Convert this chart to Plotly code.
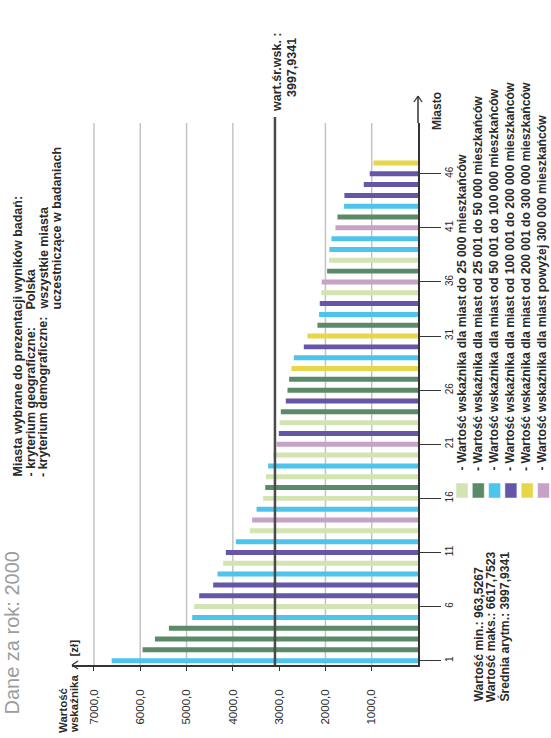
import plotly.graph_objects as go

# ---------------- data ----------------
city_index = list(range(1, 48))
values = [6617.75, 5950, 5683, 5381, 4878, 4835, 4727, 4425, 4330, 4209,
          4151, 3935, 3633, 3583, 3488, 3346, 3300, 3285, 3237, 3130,
          3057, 3007, 2990, 2963, 2856, 2819, 2784, 2733, 2683, 2467,
          2388, 2172, 2137, 2122, 2086, 2080, 1964, 1921, 1915, 1870,
          1783, 1740, 1597, 1590, 1172, 1043, 963.53]
# group index of each city (size class)
groups = [2, 1, 1, 1, 2, 0, 3, 3, 2, 0,
          3, 2, 0, 5, 2, 0, 1, 0, 2, 0,
          5, 3, 0, 1, 3, 1, 1, 4, 2, 3,
          4, 1, 2, 3, 0, 5, 1, 0, 2, 2,
          5, 1, 2, 3, 3, 3, 4]
group_labels = [
    "- Wartość wskaźnika dla miast do 25 000 mieszkańców",
    "- Wartość wskaźnika dla miast od 25 001 do 50 000 mieszkańców",
    "- Wartość wskaźnika dla miast od 50 001 do 100 000 mieszkańców",
    "- Wartość wskaźnika dla miast od 100 001 do 200 000 mieszkańców",
    "- Wartość wskaźnika dla miast od 200 001 do 300 000 mieszkańców",
    "- Wartość wskaźnika dla miast powyżej 300 000 mieszkańców",
]
group_colors = ["#d2e4b2", "#5a8a67", "#4cc4ec", "#6656a8", "#e8d64a", "#c6a2c6"]
value_ticks = [1000, 2000, 3000, 4000, 5000, 6000, 7000]
value_tick_text = ["1000,0", "2000,0", "3000,0", "4000,0", "5000,0", "6000,0", "7000,0"]
grid_values = [1000, 2000, 4000, 5000, 6000, 7000]
city_ticks = [1, 6, 11, 16, 21, 26, 31, 36, 41, 46]
mean_line_value = 3090
stat_lines = ["Wartość min.: 963,5267", "Wartość maks.: 6617,7523", "Średnia arytm.: 3997,9341"]
mean_label = ["wart.śr.wsk. :", "3997,9341"]
title_text = "Dane za rok: 2000"
info_lines = ["Miasta wybrane do prezentacji wyników badań:",
              "- kryterium geograficzne:", "Polska",
              "- kryterium demograficzne:", "wszystkie miasta",
              "uczestniczące w badaniach"]
axis_titles = ["Wartość", "wskaźnika", "[zł]", "Miasto"]

# ---------------- layout helpers (pixel -> paper) ----------------
W, H = 551, 738
PL, PR, PT, PB = 72, 418, 123, 665


def px(x):
    return (x - PL) / (PR - PL)


def py(y):
    return (PB - y) / (PB - PT)


FONT = "Liberation Sans, Arial, sans-serif"
TXT = "#2a2a2a"
AX = "#333333"

fig = go.Figure()
fig.add_trace(go.Bar(
    x=values, y=city_index, orientation="h",
    marker=dict(color=[group_colors[g] for g in groups], line=dict(width=0)),
    width=0.46, hoverinfo="x+y", showlegend=False,
))

shapes = []
for gv in grid_values:
    shapes.append(dict(type="line", xref="x", yref="paper", x0=gv, x1=gv, y0=0, y1=1,
                       line=dict(color="#c4c4c4", width=1.5), layer="below"))
# mean line
shapes.append(dict(type="line", xref="x", yref="paper", x0=mean_line_value, x1=mean_line_value,
                   y0=0, y1=py(117), line=dict(color="#4a4a4a", width=2.5), layer="above"))
# category axis extension
shapes.append(dict(type="line", xref="paper", yref="paper", x0=px(PR), x1=px(PR), y0=1, y1=py(96),
                   line=dict(color=AX, width=1.5)))


def seg(x0, y0, x1, y1):
    shapes.append(dict(type="line", xref="paper", yref="paper",
                       x0=px(x0), y0=py(y0), x1=px(x1), y1=py(y1),
                       line=dict(color=AX, width=1.3)))


# arrow on top of the category axis ("^")
seg(PR - 4, 102, PR, 96)
seg(PR + 4, 102, PR, 96)
# arrow at the left end of the value axis ("<")
seg(PL + 6, PB - 4, PL, PB)
seg(PL + 6, PB + 4, PL, PB)

# legend squares
for i, c in enumerate(group_colors):
    cx = 462 + i * 16.3
    shapes.append(dict(type="rect", xref="paper", yref="paper",
                       x0=px(cx - 6), x1=px(cx + 6), y0=py(498), y1=py(483),
                       fillcolor=c, line=dict(color="white", width=0.5)))

ann = []


def rot(text, x, y, size=12, color=TXT, yanchor="bottom", bold=True):
    ann.append(dict(text=("<b>%s</b>" % text) if bold else text, x=px(x), y=py(y),
                    xref="paper", yref="paper", showarrow=False, textangle=-90,
                    xanchor="center", yanchor=yanchor, borderpad=0,
                    font=dict(family=FONT, size=size, color=color)))


rot(title_text, 11, 716, size=20, color="#9c9c9c", bold=False)
rot(info_lines[0], 17, 478, size=12.5)
rot(info_lines[1], 30, 478, size=12.5)
rot(info_lines[2], 30, 311, size=12.5)
rot(info_lines[3], 43, 478, size=12.5)
rot(info_lines[4], 43, 311, size=12.5)
rot(info_lines[5], 56, 311, size=12.5)
rot(axis_titles[0], 63, 734, size=11.5)
rot(axis_titles[1], 74, 734, size=11.5)
rot(axis_titles[2], 73, 658, size=11.5)
rot(axis_titles[3], 437, 111, size=12, yanchor="middle")
rot(mean_label[0], 277, 72, size=12.5, yanchor="middle")
rot(mean_label[1], 292, 68, size=12.5, yanchor="middle")
for i, t in enumerate(group_labels):
    rot(t, 461.5 + i * 16, 472, size=12.2)
for i, t in enumerate(stat_lines):
    rot(t, 478 + i * 12.8, 703, size=12.2)

fig.update_layout(
    width=W, height=H,
    margin=dict(l=PL, r=W - PR, t=PT, b=H - PB, pad=0),
    paper_bgcolor="white", plot_bgcolor="white",
    shapes=shapes, annotations=ann,
    xaxis=dict(range=[(PR - PL) / 46.29 * 1000, 0], showgrid=False, zeroline=False,
               showline=True, linecolor=AX, linewidth=1.5,
               tickvals=value_ticks, ticktext=value_tick_text, tickangle=-90,
               ticks="outside", ticklen=4, tickcolor=AX, ticklabelstandoff=14,
               tickfont=dict(family=FONT, size=11.5, color=TXT), tickprefix="<b>", ticksuffix="</b>"),
    yaxis=dict(range=[0.60, 50.69], side="right", showgrid=False, zeroline=False,
               showline=True, linecolor=AX, linewidth=1.5,
               tickvals=city_ticks, ticks="outside", ticklen=21, tickcolor=AX,
               tickangle=-90, tickfont=dict(family=FONT, size=10, color=TXT),
               tickprefix="<b>", ticksuffix="</b>"),
)

fig.write_html("out.html", config={"displayModeBar": False},
               post_script="document.body.style.margin='0';")
